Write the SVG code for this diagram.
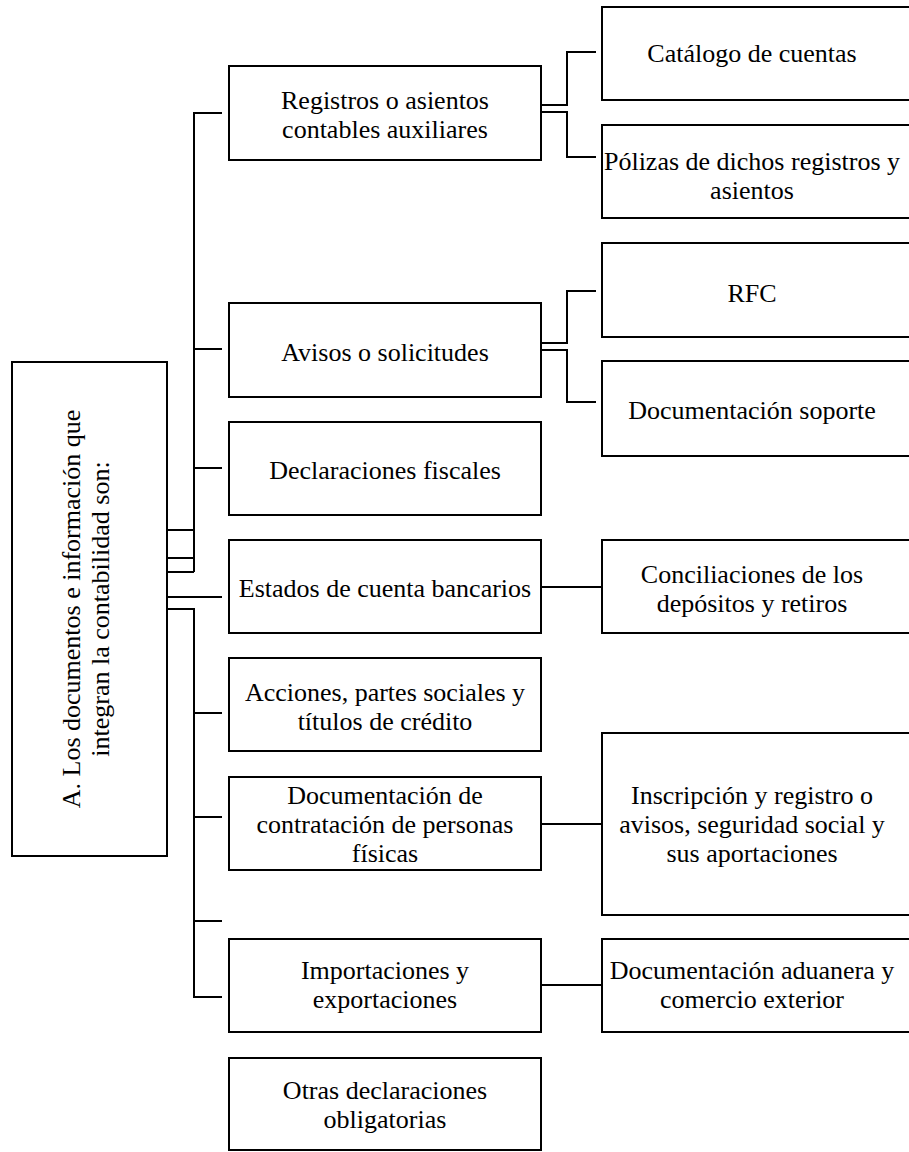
<svg xmlns="http://www.w3.org/2000/svg" width="909" height="1152" viewBox="0 0 909 1152">
<style>
.box{fill:#fff;stroke:#000;stroke-width:2}
.t{font-family:"Liberation Serif","Times New Roman",serif;font-size:26px;fill:#000;text-anchor:middle}
.c{fill:none;stroke:#000;stroke-width:2}
</style>
<rect width="909" height="1152" fill="#fff"/>
<g id="connectors" class="c">
<path d="M222,113 H194 V572"/>
<path d="M194,349 H222"/>
<path d="M194,468 H222"/>
<path d="M167,530 H194"/>
<path d="M167,558 H194"/>
<path d="M167,572 H194"/>
<path d="M167,597 H222"/>
<path d="M167,609 H194 V997 H222"/>
<path d="M194,713 H222"/>
<path d="M194,817 H222"/>
<path d="M194,921 H222"/>
<path d="M541,105 H567 V52 H596"/>
<path d="M541,112 H567 V157 H596"/>
<path d="M541,343 H567 V291 H596"/>
<path d="M541,350 H567 V402 H596"/>
<path d="M541,587 H602"/>
<path d="M541,824 H602"/>
<path d="M541,985 H602"/>
</g>
<g id="root">
<rect class="box" x="12" y="362" width="155" height="494"/>
<text class="t" transform="translate(80,609) rotate(-90)"><tspan x="0" y="0">A. Los documentos e información que</tspan><tspan x="0" y="29">integran la contabilidad son:</tspan></text>
</g>
<g id="registros">
<rect class="box" x="229" y="66" width="312" height="94"/>
<text class="t"><tspan x="385" y="109">Registros o asientos</tspan><tspan x="385" y="138">contables auxiliares</tspan></text>
</g>
<g id="catalogo">
<rect class="box" x="602" y="7" width="310" height="93"/>
<text class="t" x="752" y="62">Catálogo de cuentas</text>
</g>
<g id="polizas">
<rect class="box" x="602" y="125" width="310" height="93"/>
<text class="t"><tspan x="752" y="170">Pólizas de dichos registros y</tspan><tspan x="752" y="199">asientos</tspan></text>
</g>
<g id="avisos">
<rect class="box" x="229" y="303" width="312" height="94"/>
<text class="t" x="385" y="361">Avisos o solicitudes</text>
</g>
<g id="rfc">
<rect class="box" x="602" y="243" width="310" height="94"/>
<text class="t" x="752" y="302">RFC</text>
</g>
<g id="soporte">
<rect class="box" x="602" y="361" width="310" height="95"/>
<text class="t" x="752" y="419">Documentación soporte</text>
</g>
<g id="declaraciones">
<rect class="box" x="229" y="422" width="312" height="93"/>
<text class="t" x="385" y="479">Declaraciones fiscales</text>
</g>
<g id="estados">
<rect class="box" x="229" y="540" width="312" height="93"/>
<text class="t" x="385" y="597">Estados de cuenta bancarios</text>
</g>
<g id="conciliaciones">
<rect class="box" x="602" y="540" width="310" height="93"/>
<text class="t"><tspan x="752" y="583">Conciliaciones de los</tspan><tspan x="752" y="612">depósitos y retiros</tspan></text>
</g>
<g id="acciones">
<rect class="box" x="229" y="658" width="312" height="93"/>
<text class="t"><tspan x="385" y="701">Acciones, partes sociales y</tspan><tspan x="385" y="730">títulos de crédito</tspan></text>
</g>
<g id="contratacion">
<rect class="box" x="229" y="777" width="312" height="93"/>
<text class="t"><tspan x="385" y="804">Documentación de</tspan><tspan x="385" y="833">contratación de personas</tspan><tspan x="385" y="862">físicas</tspan></text>
</g>
<g id="inscripcion">
<rect class="box" x="602" y="733" width="310" height="182"/>
<text class="t"><tspan x="752" y="804">Inscripción y registro o</tspan><tspan x="752" y="833">avisos, seguridad social y</tspan><tspan x="752" y="862">sus aportaciones</tspan></text>
</g>
<g id="importaciones">
<rect class="box" x="229" y="939" width="312" height="93"/>
<text class="t"><tspan x="385" y="979">Importaciones y</tspan><tspan x="385" y="1008">exportaciones</tspan></text>
</g>
<g id="aduanera">
<rect class="box" x="602" y="939" width="310" height="93"/>
<text class="t"><tspan x="752" y="979">Documentación aduanera y</tspan><tspan x="752" y="1008">comercio exterior</tspan></text>
</g>
<g id="otras">
<rect class="box" x="229" y="1058" width="312" height="92"/>
<text class="t"><tspan x="385" y="1099">Otras declaraciones</tspan><tspan x="385" y="1128">obligatorias</tspan></text>
</g>
</svg>
